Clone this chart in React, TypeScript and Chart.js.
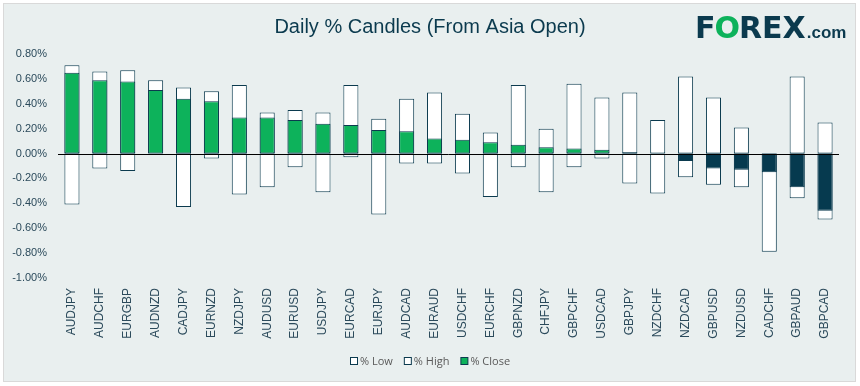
import React, { useEffect, useRef } from 'react';
import { Chart, registerables } from 'chart.js';

Chart.register(...registerables);

const categories = [
  'AUDJPY', 'AUDCHF', 'EURGBP', 'AUDNZD', 'CADJPY', 'EURNZD', 'NZDJPY', 'AUDUSD', 'EURUSD',
  'USDJPY', 'EURCAD', 'EURJPY', 'AUDCAD', 'EURAUD', 'USDCHF', 'EURCHF', 'GBPNZD', 'CHFJPY',
  'GBPCHF', 'USDCAD', 'GBPJPY', 'NZDCHF', 'NZDCAD', 'GBPUSD', 'NZDUSD', 'CADCHF', 'GBPAUD', 'GBPCAD',
];
const highValues = [
  0.71, 0.66, 0.67, 0.59, 0.53, 0.50, 0.55, 0.33, 0.35, 0.33, 0.55, 0.28, 0.44, 0.49,
  0.32, 0.17, 0.55, 0.20, 0.56, 0.45, 0.49, 0.27, 0.62, 0.45, 0.21, 0.0, 0.62, 0.25,
];
const lowValues = [
  -0.41, -0.12, -0.14, 0.0, -0.43, -0.04, -0.33, -0.27, -0.11, -0.31, -0.03, -0.49, -0.08, -0.08,
  -0.16, -0.35, -0.11, -0.31, -0.11, -0.04, -0.24, -0.32, -0.19, -0.25, -0.27, -0.79, -0.36, -0.53,
];
const closeValues = [
  0.65, 0.59, 0.58, 0.51, 0.44, 0.42, 0.29, 0.29, 0.27, 0.24, 0.23, 0.19, 0.18, 0.12,
  0.11, 0.09, 0.07, 0.05, 0.04, 0.03, 0.01, 0.0, -0.06, -0.12, -0.13, -0.15, -0.27, -0.46,
];
const seriesNames = ['% Low', '% High', '% Close'];
const titleText = 'Daily % Candles (From Asia Open)';
const yMin = -1.0;
const yMax = 0.8;
const yStep = 0.2;

const DARK = '#0B3A4E';
const GREEN = '#0DB25B';
const NAVY = '#063A4F';
const BG = '#E9EFEF';
const LABEL = '#2B4A5B';

const nz = (arr: number[]) => arr.map((v) => (v === 0 ? null : v));

const decorPlugin = {
  id: 'decor',
  beforeDraw(chart: any) {
    const { ctx, width, height } = chart;
    ctx.save();
    ctx.fillStyle = '#FFFFFF';
    ctx.fillRect(0, 0, width, height);
    ctx.fillStyle = BG;
    ctx.fillRect(3, 3, width - 7, height - 7);
    ctx.strokeStyle = '#D9D9D9';
    ctx.lineWidth = 1;
    ctx.strokeRect(3.5, 3.5, width - 8, height - 8);

    // title
    ctx.fillStyle = DARK;
    ctx.font = '20px "Liberation Sans", Arial, sans-serif';
    ctx.textAlign = 'center';
    ctx.textBaseline = 'alphabetic';
    ctx.fillText(titleText, 430, 33);

    // logo
    ctx.textAlign = 'left';
    ctx.font = 'bold 30px "DejaVu Sans", sans-serif';
    let x = 695;
    const base = 38;
    const parts: [string, string][] = [['F', DARK], ['O', GREEN], ['REX', DARK]];
    for (const [t, c] of parts) {
      ctx.fillStyle = c;
      ctx.fillText(t, x, base);
      x += ctx.measureText(t).width - 1;
    }
    ctx.fillStyle = DARK;
    ctx.font = 'bold 17px "Liberation Sans", Arial, sans-serif';
    ctx.fillText('.com', x + 2, base);

    // legend
    ctx.font = '11px "Open Sans", sans-serif';
    ctx.textBaseline = 'middle';
    const fills = ['#FFFFFF', '#FFFFFF', GREEN];
    const box = 7;
    const gapBox = 3;
    const gapItem = 11;
    const widths = seriesNames.map((n) => box + gapBox + ctx.measureText(n).width);
    const total = widths.reduce((a, b) => a + b, 0) + gapItem * (seriesNames.length - 1);
    let lx = Math.round(430 - total / 2);
    const ly = 361;
    seriesNames.forEach((n, i) => {
      ctx.fillStyle = fills[i];
      ctx.fillRect(lx + 0.5, ly - 3.5, box, box);
      ctx.strokeStyle = DARK;
      ctx.lineWidth = 1;
      ctx.strokeRect(lx + 0.5, ly - 3.5, box, box);
      ctx.fillStyle = '#595959';
      ctx.fillText(n, lx + box + gapBox, ly + 1);
      lx += widths[i] + gapItem;
    });
    ctx.restore();
  },
  afterDatasetsDraw(chart: any) {
    const { ctx, chartArea, scales } = chart;
    const y0 = Math.round(scales.y.getPixelForValue(0)) + 0.5;
    ctx.save();
    ctx.strokeStyle = '#000000';
    ctx.lineWidth = 1;
    ctx.beginPath();
    ctx.moveTo(chartArea.left, y0);
    ctx.lineTo(chartArea.right, y0);
    ctx.stroke();
    ctx.restore();
  },
};

export default function App() {
  const ref = useRef<HTMLCanvasElement>(null);

  useEffect(() => {
    if (!ref.current) return;
    const barOpts = {
      borderColor: DARK,
      borderWidth: 1,
      borderSkipped: false,
      grouped: false,
      categoryPercentage: 1,
      barPercentage: 0.54,
    };
    const chart = new Chart(ref.current, {
      type: 'bar',
      data: {
        labels: categories,
        datasets: [
          {
            label: seriesNames[2],
            data: nz(closeValues),
            backgroundColor: closeValues.map((v) => (v >= 0 ? GREEN : NAVY)),
            ...barOpts,
          },
          {
            label: seriesNames[1],
            data: nz(highValues),
            backgroundColor: '#FFFFFF',
            ...barOpts,
          },
          {
            label: seriesNames[0],
            data: nz(lowValues),
            backgroundColor: '#FFFFFF',
            ...barOpts,
          },
        ] as any,
      },
      options: {
        animation: false,
        responsive: false,
        maintainAspectRatio: false,
        layout: { padding: { top: 54, right: 21, left: 0, bottom: 0 } },
        plugins: {
          legend: { display: false },
          title: { display: false },
          tooltip: { enabled: false },
        },
        scales: {
          x: {
            grid: { display: false },
            border: { display: false },
            ticks: {
              autoSkip: false,
              minRotation: 90,
              maxRotation: 90,
              padding: 2,
              color: LABEL,
              font: { family: '"Liberation Sans", Arial, sans-serif', size: 12 },
            },
            afterFit: (s: any) => {
              s.height = 108;
            },
          },
          y: {
            min: yMin,
            max: yMax,
            grid: { display: false, drawTicks: false },
            border: { display: false },
            ticks: {
              stepSize: yStep,
              padding: 11,
              color: LABEL,
              font: { family: '"Liberation Sans", Arial, sans-serif', size: 11 },
              callback: (v: any) => {
                const n = Number(v);
                return (Math.abs(n) < 1e-9 ? 0 : n).toFixed(2) + '%';
              },
            },
            afterFit: (s: any) => {
              s.width = 58;
            },
          },
        },
      },
      plugins: [decorPlugin],
    });
    return () => chart.destroy();
  }, []);

  return (
    <div style={{ position: 'absolute', left: 0, top: 0, width: 860, height: 386 }}>
      <canvas ref={ref} width={860} height={386} style={{ display: 'block' }} />
    </div>
  );
}
